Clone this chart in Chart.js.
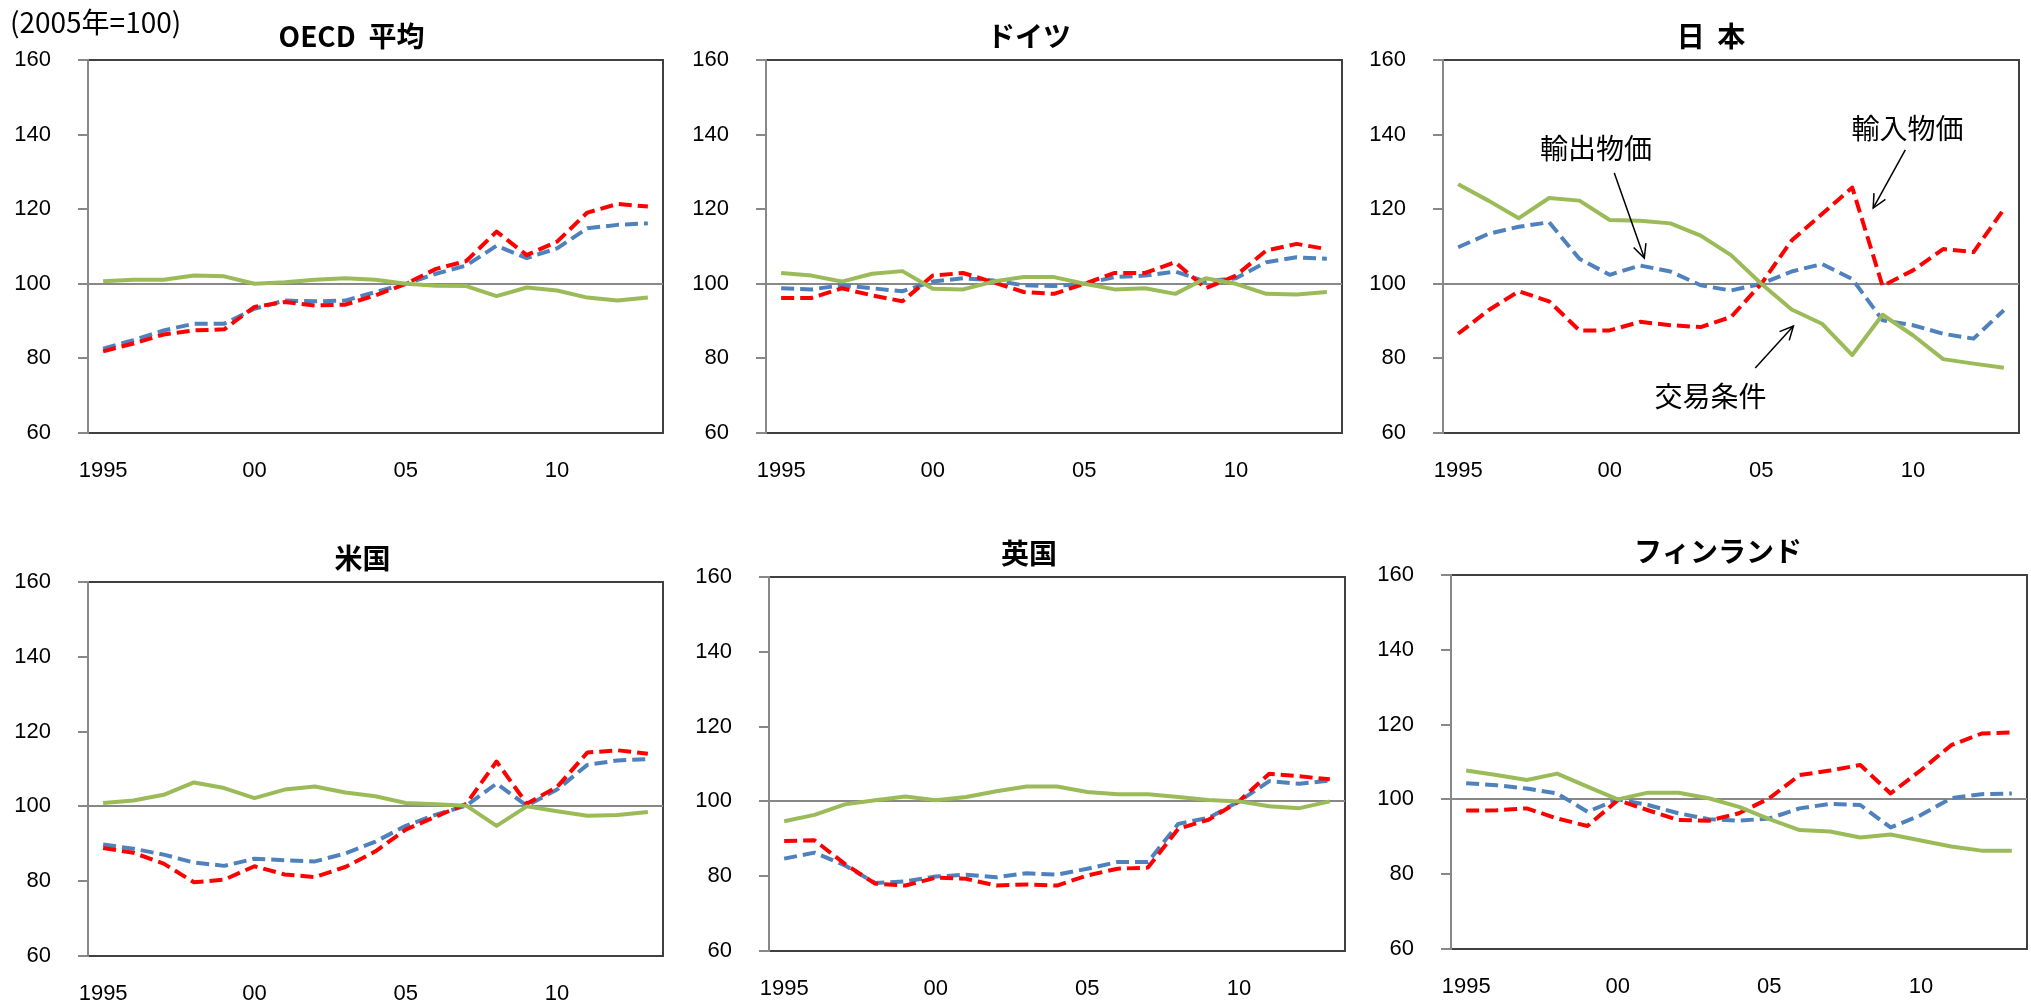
<!DOCTYPE html>
<html><head><meta charset="utf-8">
<script src="https://cdn.jsdelivr.net/npm/chart.js@4.4.0/dist/chart.umd.min.js"></script>
<style>
html,body{margin:0;padding:0;background:#fff;overflow:hidden;width:2031px;height:1006px;}
canvas{position:absolute;}
</style></head><body>
<script>
// ---- data ----
const years = ['1995','1996','1997','1998','1999','2000','2001','2002','2003','2004','2005','2006','2007','2008','2009','2010','2011','2012','2013'];
const xTickLabels = ['1995','','','','','00','','','','','05','','','','','10','','',''];
const seriesNames = ['輸出物価','輸入物価','交易条件'];
const panelTitles = ['OECD  平均','ドイツ','日  本','米国','英国','フィンランド'];
const unitNote = '(2005年=100)';

const oecdExport = [82.6,84.9,87.5,89.3,89.3,93.3,95.5,95.3,95.5,97.8,100,102.7,104.9,110.2,106.9,109.5,114.9,115.8,116.2];
const oecdImport = [81.9,84.0,86.4,87.5,87.8,93.8,95.1,94.2,94.4,96.9,100,104.0,106.1,114.0,107.7,111.3,119.1,121.4,120.7];
const oecdTerms  = [100.7,101.1,101.1,102.2,102.0,100.0,100.4,101.1,101.5,101.1,100,99.5,99.4,96.7,99.0,98.2,96.3,95.5,96.3];

const deuExport = [98.8,98.5,99.6,98.8,98.0,100.6,101.5,100.9,99.6,99.4,100,101.8,102.2,103.3,100.6,101.5,105.8,107.1,106.7];
const deuImport = [96.2,96.2,98.8,96.9,95.3,102.2,102.9,100.4,97.8,97.3,100,102.9,102.9,105.8,98.8,102.2,108.9,110.7,109.3];
const deuTerms  = [102.9,102.2,100.6,102.7,103.4,98.7,98.5,100.6,101.8,101.8,100,98.5,98.8,97.3,101.5,100,97.3,97.1,97.8];

const jpnExport = [109.8,113.4,115.3,116.5,106.7,102.4,104.9,103.3,99.6,98.2,100,103.3,105.3,101.3,90.2,88.9,86.6,85.3,92.9];
const jpnImport = [86.6,92.9,98.0,95.3,87.5,87.5,89.8,88.9,88.4,91.1,100,111.6,118.7,125.8,99.4,103.6,109.3,108.5,120.0];
const jpnTerms  = [126.7,122.3,117.6,123.0,122.3,117.1,116.9,116.2,112.9,107.7,100,93.1,89.3,80.9,91.7,86.2,79.8,78.6,77.5];

const usaExport = [89.8,88.7,87.1,85.0,84.1,86.0,85.6,85.3,87.4,90.6,94.8,97.8,100.2,106.1,100.2,104.5,111.1,112.3,112.6];
const usaImport = [88.9,87.6,84.7,79.7,80.4,84.0,81.8,81.1,83.8,88.0,93.8,97.3,100.7,112.0,100.7,105.2,114.4,115.0,114.1];
const usaTerms  = [100.9,101.6,103.1,106.4,104.9,102.2,104.5,105.3,103.7,102.7,100.9,100.6,100.2,94.8,100,98.7,97.5,97.7,98.5];

const gbrExport = [84.7,86.3,82.9,78.2,78.6,79.9,80.4,79.7,80.8,80.4,82.0,83.8,83.8,94.0,95.6,100,105.4,104.7,105.6];
const gbrImport = [89.4,89.6,83.3,78.0,77.5,79.6,79.3,77.5,77.8,77.5,80.2,82.0,82.3,92.7,95.1,100,107.4,106.7,105.9];
const gbrTerms  = [94.7,96.4,99.2,100.3,101.3,100.3,101.2,102.7,104.0,104.0,102.5,101.9,101.9,101.2,100.4,100,98.7,98.2,100];

const finExport = [104.3,103.8,102.9,101.6,96.7,100,98.5,96.3,94.7,94.3,94.9,97.6,98.8,98.5,92.5,95.8,100.3,101.4,101.6];
const finImport = [97.0,97.1,97.6,94.9,92.9,99.8,97.1,94.5,94.3,96.3,100.3,106.5,107.7,109.2,101.6,107.8,114.5,117.6,117.9];
const finTerms  = [107.7,106.5,105.2,106.9,103.4,100,101.8,101.8,100.3,98.0,94.7,91.8,91.4,89.8,90.6,89.0,87.4,86.3,86.3];

const yMin = 60, yMax = 160, yStep = 20, baseLine = 100;

// ---- layout / style (kept separate from data) ----
const panels = [
  {title: panelTitles[0], data: [oecdExport, oecdImport, oecdTerms], L: 88,   T: 60,  R: 663,  B: 433, titleDx: -24, note: true},
  {title: panelTitles[1], data: [deuExport, deuImport, deuTerms],    L: 766,  T: 60,  R: 1342, B: 433, titleDx: -25},
  {title: panelTitles[2], data: [jpnExport, jpnImport, jpnTerms],    L: 1443, T: 60,  R: 2019, B: 433, titleDx: -20, annotate: true},
  {title: panelTitles[3], data: [usaExport, usaImport, usaTerms],    L: 88,   T: 582, R: 663,  B: 956, titleDx: -13},
  {title: panelTitles[4], data: [gbrExport, gbrImport, gbrTerms],    L: 769,  T: 577, R: 1345, B: 951, titleDx: -28},
  {title: panelTitles[5], data: [finExport, finImport, finTerms],    L: 1451, T: 575, R: 2027, B: 949, titleDx: -21}
];
// Japan annotations in data coordinates (category index, value)
const jpAnnotations = [
  {text: seriesNames[0], at: [4.55, 136.4], from: [5.15, 129.7], to: [6.14, 106.9]},
  {text: seriesNames[1], at: [14.82, 141.8], from: [14.75, 135.9], to: [13.69, 120.3]},
  {text: seriesNames[2], at: [8.32, 69.9],  from: [9.80, 77.4],  to: [11.06, 88.7]}
];

const colors = ['#4F81BD', '#FF0000', '#9BBB59'];
const dashes = [[13, 6], [13, 6], []];
const orders = [2, 1, 0];
const Y_AXIS_W = 88, TOP_PAD = 60, X_AXIS_H = 60, RIGHT_PAD = 12;

const decor = {
  id: 'decor',
  beforeDraw(chart, args, opts) {
    const {ctx, chartArea: a} = chart;
    ctx.save();
    ctx.strokeStyle = '#404040';
    ctx.lineWidth = 2;
    ctx.strokeRect(a.left, a.top, a.right - a.left, a.bottom - a.top);
    ctx.restore();
  },
  afterDraw(chart, args, opts) {
    const {ctx, chartArea: a, scales} = chart;
    ctx.save();
    ctx.fillStyle = '#000';
    ctx.textBaseline = 'middle';
    ctx.textAlign = 'center';
    ctx.font = 'bold 28px "Noto Sans CJK JP"';
    ctx.fillText(opts.title, (a.left + a.right) / 2 + opts.titleDx, a.top - 24);
    if (opts.note) {
      ctx.textAlign = 'left';
      ctx.font = '28px "Noto Sans CJK JP"';
      ctx.fillText(unitNote, a.left - 78, a.top - 38);
    }
    if (opts.annotate) {
      const x = scales.x, y = scales.y;
      ctx.font = '28px "Noto Sans CJK JP"';
      ctx.textAlign = 'center';
      ctx.strokeStyle = '#000';
      ctx.lineWidth = 1.5;
      jpAnnotations.forEach(an => {
        ctx.fillText(an.text, x.getPixelForValue(an.at[0]), y.getPixelForValue(an.at[1]));
        const x1 = x.getPixelForValue(an.from[0]), y1 = y.getPixelForValue(an.from[1]);
        const x2 = x.getPixelForValue(an.to[0]), y2 = y.getPixelForValue(an.to[1]);
        ctx.beginPath(); ctx.moveTo(x1, y1); ctx.lineTo(x2, y2); ctx.stroke();
        const ang = Math.atan2(y2 - y1, x2 - x1), h = 15, w = 0.45;
        ctx.beginPath();
        ctx.moveTo(x2 - h * Math.cos(ang - w), y2 - h * Math.sin(ang - w));
        ctx.lineTo(x2, y2);
        ctx.lineTo(x2 - h * Math.cos(ang + w), y2 - h * Math.sin(ang + w));
        ctx.stroke();
      });
    }
    ctx.restore();
  }
};

panels.forEach(p => {
  const cv = document.createElement('canvas');
  const w = (p.R - p.L) + Y_AXIS_W + RIGHT_PAD;
  const h = (p.B - p.T) + TOP_PAD + X_AXIS_H;
  cv.width = w; cv.height = h;
  cv.style.left = (p.L - Y_AXIS_W) + 'px';
  cv.style.top = (p.T - TOP_PAD) + 'px';
  cv.style.width = w + 'px'; cv.style.height = h + 'px';
  document.body.appendChild(cv);
  new Chart(cv, {
    type: 'line',
    data: {
      labels: years,
      datasets: p.data.map((d, i) => ({
        label: seriesNames[i],
        data: d,
        borderColor: colors[i],
        backgroundColor: colors[i],
        borderWidth: 4,
        borderDash: dashes[i],
        borderCapStyle: 'butt',
        borderJoinStyle: 'round',
        pointRadius: 0,
        tension: 0,
        fill: false,
        order: orders[i]
      }))
    },
    options: {
      responsive: false,
      animation: false,
      devicePixelRatio: 1,
      layout: {padding: {top: TOP_PAD, right: RIGHT_PAD, left: 0, bottom: 0}},
      plugins: {
        legend: {display: false},
        tooltip: {enabled: false},
        title: {display: false},
        decor: {title: p.title, titleDx: p.titleDx, note: !!p.note, annotate: !!p.annotate}
      },
      scales: {
        x: {
          type: 'category',
          offset: true,
          grid: {display: false, drawTicks: false},
          border: {display: true, color: '#404040', width: 2},
          ticks: {
            autoSkip: false, maxRotation: 0, minRotation: 0, padding: 25,
            color: '#000',
            font: {family: '"Liberation Sans", Arial, sans-serif', size: 22},
            callback: (v, i) => xTickLabels[i]
          },
          afterFit: s => { s.height = X_AXIS_H; }
        },
        y: {
          min: yMin, max: yMax,
          ticks: {
            stepSize: yStep, padding: 27, color: '#000',
            font: {family: '"Liberation Sans", Arial, sans-serif', size: 22}
          },
          grid: {
            drawTicks: true, tickLength: 10, tickColor: '#888', tickWidth: 2,
            lineWidth: 2,
            color: c => (c.tick && c.tick.value === baseLine) ? '#888' : 'rgba(0,0,0,0)'
          },
          border: {display: true, color: '#888', width: 2},
          afterFit: s => { s.width = Y_AXIS_W; }
        }
      }
    },
    plugins: [decor]
  });
});
</script>
</body></html>
